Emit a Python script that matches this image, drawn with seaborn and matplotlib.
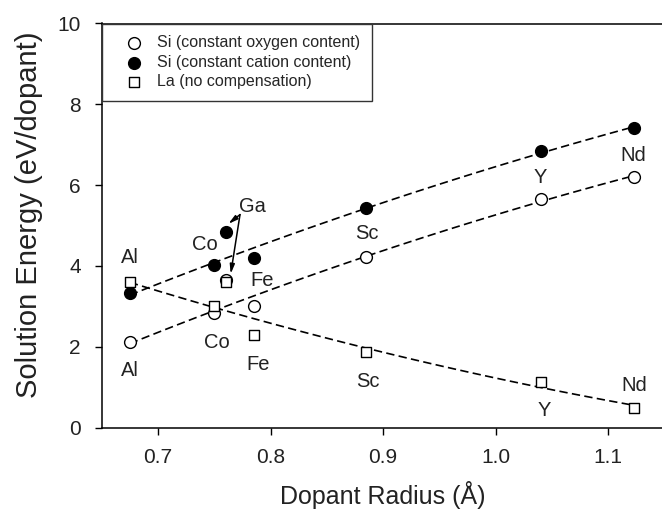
import numpy as np
import pandas as pd
import matplotlib
matplotlib.use('Agg')
import matplotlib.pyplot as plt
import seaborn as sns

# dopants and crystal radii (Å)
dopants = ['Al', 'Co', 'Ga', 'Fe', 'Sc', 'Y', 'Nd']
radius = [0.675, 0.75, 0.76, 0.785, 0.885, 1.04, 1.123]

# solution energies (eV/dopant)
si_oxygen = [2.12, 2.83, 3.66, 3.01, 4.23, 5.66, 6.19]
si_cation = [3.32, 4.02, 4.83, 4.19, 5.43, 6.84, 7.41]
la_nocomp = [3.59, 3.01, 3.61, 2.29, 1.86, 1.13, 0.48]

# Ga and Fe are left out of the trend lines
in_fit = [True, True, False, False, True, True, True]

series_labels = ['Si (constant oxygen content)', 'Si (constant cation content)',
                 'La (no compensation)']

# text labels next to the points (x, y in data units)
upper_labels = [('Al', 0.675, 4.20), ('Co', 0.742, 4.52), ('Fe', 0.793, 3.63),
                ('Sc', 0.886, 4.81), ('Y', 1.040, 6.18), ('Nd', 1.122, 6.74)]
lower_labels = [('Al', 0.675, 1.42), ('Co', 0.752, 2.10), ('Fe', 0.789, 1.57),
                ('Sc', 0.887, 1.15), ('Y', 1.043, 0.43), ('Nd', 1.123, 1.05)]
ga_label = ('Ga', 0.784, 5.46)
ga_arrow_start = (0.7729, 5.27)
ga_arrow_ends = [(0.7625, 5.04), (0.7646, 3.80)]

df = pd.DataFrame({'dopant': dopants, 'radius': radius, 'si_oxygen': si_oxygen,
                   'si_cation': si_cation, 'la_nocomp': la_nocomp, 'fit': in_fit})
df_fit = df[df['fit']]

sns.set_style('ticks')
plt.rcParams['font.family'] = ['Liberation Sans', 'DejaVu Sans']

fig = plt.figure(figsize=(6.62, 5.12), dpi=100)
ax = fig.add_axes([101.75 / 662, 84.5 / 512, 562.5 / 662, 404 / 512])

dash = dict(color='k', lw=1.2, ls=(0, (5, 2.6)))
for col in ['si_oxygen', 'si_cation', 'la_nocomp']:
    sns.regplot(data=df_fit, x='radius', y=col, order=2, ci=None, scatter=False,
                truncate=True, ax=ax, line_kws=dash)

sns.scatterplot(data=df, x='radius', y='si_oxygen', ax=ax, marker='o', s=72,
                facecolor='white', edgecolor='k', linewidth=1, label=series_labels[0], zorder=3)
sns.scatterplot(data=df, x='radius', y='si_cation', ax=ax, marker='o', s=72,
                facecolor='k', edgecolor='k', linewidth=1, label=series_labels[1], zorder=3)
sns.scatterplot(data=df, x='radius', y='la_nocomp', ax=ax, marker='s', s=52,
                facecolor='white', edgecolor='k', linewidth=1, label=series_labels[2], zorder=3)

for name, x, y in upper_labels + lower_labels + [ga_label]:
    ax.text(x, y, name, ha='center', va='center', fontsize=14.5, color='#222222')

for end in ga_arrow_ends:
    ax.annotate('', xy=end, xytext=ga_arrow_start,
                arrowprops=dict(arrowstyle='-|>,head_length=0.55,head_width=0.14',
                                color='k', lw=1.1, shrinkA=0, shrinkB=0))

ax.set_xlim(0.65, 1.15)
ax.set_ylim(0, 10)
ax.set_xticks([0.7, 0.8, 0.9, 1.0, 1.1])
ax.set_yticks([0, 2, 4, 6, 8, 10])
ax.set_xticklabels(['0.7', '0.8', '0.9', '1.0', '1.1'])
ax.tick_params(direction='out', length=5, width=1, labelsize=15, colors='k',
               labelcolor='#222222', pad=10)
ax.set_xlabel('Dopant Radius (Å)', fontsize=18, color='#222222', labelpad=10)
ax.set_ylabel('Solution Energy (eV/dopant)', fontsize=21, color='#222222')
ax.yaxis.set_label_coords(-0.105, 0.526)
for side in ['left', 'bottom', 'top']:
    ax.spines[side].set_linewidth(1.1)
    ax.spines[side].set_color('k')
ax.spines['right'].set_visible(False)

leg = ax.legend(loc='upper left', bbox_to_anchor=(0, 1), borderaxespad=0, fontsize=11.5,
                frameon=True, fancybox=False, edgecolor='#333333', framealpha=1,
                handlelength=2.5, handletextpad=0.2, labelspacing=0.28, borderpad=0.75)
leg.get_frame().set_linewidth(1.0)

fig.savefig('out.png', dpi=100)
